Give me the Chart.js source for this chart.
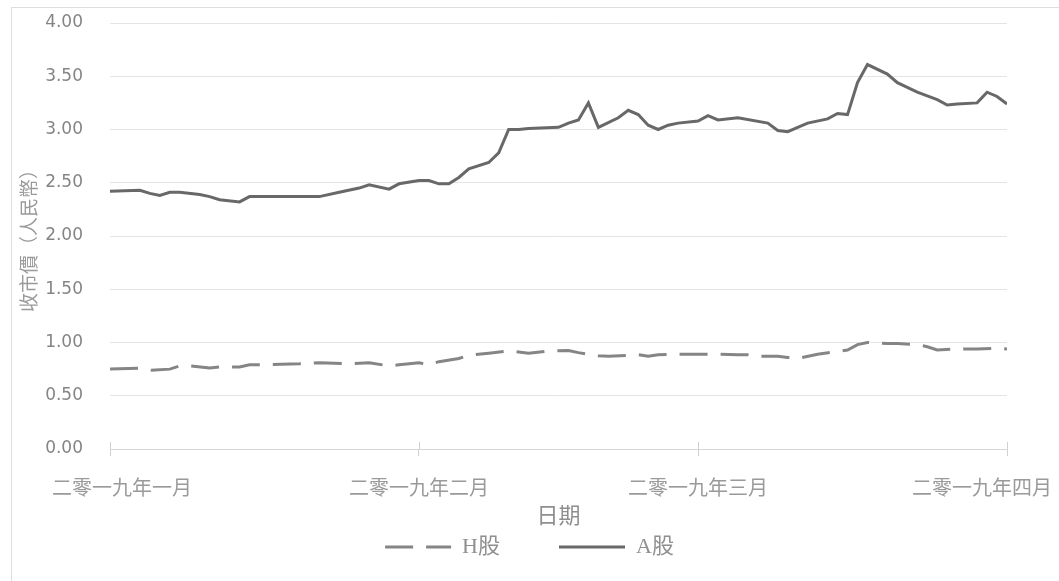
<!DOCTYPE html>
<html>
<head>
<meta charset="utf-8">
<script src="https://cdn.jsdelivr.net/npm/chart.js@4.4.1/dist/chart.umd.min.js"></script>
<style>
  body { margin: 0; background: #fff; }
  #frame { position: absolute; left: 11px; top: 7px; width: 1100px; height: 600px; border: 1px solid #dedede; }
  #myChart { position: absolute; left: 0; top: 0; }
</style>
</head>
<body>
<div id="frame"></div>
<canvas id="myChart" width="1059" height="581"></canvas>
<script>
// days counted from 1 Jan 2019
var tickDays = [0, 31, 59, 90];
var tickLabels = ["二零一九年一月", "二零一九年二月", "二零一九年三月", "二零一九年四月"];

var aDays = [0, 3, 4, 5, 6, 7, 9, 10, 11, 13, 14, 16, 21, 23, 25, 26, 28, 29, 31, 32, 33, 34, 35, 36, 38, 39,
    40, 41, 42, 45, 46, 47, 48, 49, 51, 52, 53, 54, 55, 56, 57, 59, 60, 61, 63, 66, 67, 68, 69, 70, 72, 73,
    74, 75, 76, 78, 79, 81, 83, 84, 85, 87, 88, 89, 90];
var aClose = [2.42, 2.43, 2.40, 2.38, 2.41, 2.41, 2.39, 2.37, 2.34, 2.32, 2.37, 2.37, 2.37, 2.41, 2.45, 2.48, 2.44,
    2.49, 2.52, 2.52, 2.49, 2.49, 2.55, 2.63, 2.69, 2.78, 3.00, 3.00, 3.01, 3.02, 3.06, 3.09, 3.25, 3.02, 3.11,
    3.18, 3.14, 3.04, 3.00, 3.04, 3.06, 3.08, 3.13, 3.09, 3.11, 3.06, 2.99, 2.98, 3.02, 3.06, 3.10, 3.15, 3.14,
    3.44, 3.61, 3.52, 3.44, 3.35, 3.28, 3.23, 3.24, 3.25, 3.35, 3.31, 3.24];

var hDays = [0, 3, 4, 6, 7, 8, 10, 11, 13, 14, 15, 19, 21, 24, 26, 28, 29, 31, 32, 33, 35, 36, 38, 40, 42, 44,
    46, 47, 49, 50, 53, 54, 55, 57, 58, 61, 63, 64, 65, 67, 68, 69, 71, 73, 74, 75, 76, 78, 79, 81, 82, 83,
    85, 87, 89, 90];
var hClose = [0.75, 0.76, 0.74, 0.75, 0.78, 0.78, 0.76, 0.77, 0.77, 0.79, 0.79, 0.80, 0.81, 0.80, 0.81, 0.78,
    0.79, 0.81, 0.79, 0.82, 0.85, 0.88, 0.90, 0.92, 0.90, 0.92, 0.925, 0.905, 0.875, 0.87, 0.885, 0.87, 0.885,
    0.89, 0.89, 0.89, 0.885, 0.885, 0.87, 0.87, 0.86, 0.85, 0.89, 0.915, 0.93, 0.98, 1.00, 0.99, 0.99, 0.98,
    0.96, 0.93, 0.94, 0.94, 0.945, 0.94];

var serifCJK = "'Liberation Serif', 'Noto Sans CJK TC'";
var textGrey = "#8f8f8f";

function toPoints(days, vals) {
    return days.map(function (d, i) { return {x: d, y: vals[i]}; });
}

// month labels under the axis, kept inside the frame like the original
var monthLabels = {
    id: "monthLabels",
    afterDraw: function (chart) {
        var ctx = chart.ctx;
        var x = chart.scales.x;
        ctx.save();
        ctx.font = "20px 'Noto Sans CJK TC'";
        ctx.fillStyle = "#9a9a9a";
        ctx.textAlign = "center";
        ctx.textBaseline = "middle";
        ctx.strokeStyle = "#d0d0d0";
        ctx.lineWidth = 1;
        tickDays.forEach(function (d, i) {
            var px = x.getPixelForValue(d);
            ctx.beginPath();
            ctx.moveTo(Math.round(px) + 0.5, x.top - 7);
            ctx.lineTo(Math.round(px) + 0.5, x.top);
            ctx.stroke();
            var half = ctx.measureText(tickLabels[i]).width / 2;
            var lx = Math.min(Math.max(px, 52 + half), chart.width - 7 - half);
            ctx.fillText(tickLabels[i], lx, x.top + 38);
        });
        ctx.restore();
    }
};

new Chart("myChart", {
    type: "line",
    data: {
        datasets: [{
                label: "H股",
                data: toPoints(hDays, hClose),
                borderColor: "#858585",
                backgroundColor: "#858585",
                borderDash: [28, 13],
                borderWidth: 3
            }, {
                label: "A股",
                data: toPoints(aDays, aClose),
                borderColor: "#686868",
                backgroundColor: "#686868",
                borderWidth: 3
            }]
    },
    options: {
        responsive: false,
        animation: false,
        layout: {padding: {left: 0, right: 0, top: 0, bottom: 13}},
        elements: {point: {radius: 0}, line: {tension: 0}},
        plugins: {
            legend: {
                position: "bottom",
                labels: {
                    usePointStyle: true,
                    pointStyle: "line",
                    pointStyleWidth: 66,
                    padding: 59,
                    color: textGrey,
                    font: {family: serifCJK, size: 22},
                    generateLabels: function (chart) {
                        var items = Chart.defaults.plugins.legend.labels.generateLabels(chart);
                        items.forEach(function (it) {
                            var ds = chart.data.datasets[it.datasetIndex];
                            it.lineDash = ds.borderDash || [];
                            it.lineWidth = ds.borderWidth;
                            it.strokeStyle = ds.borderColor;
                        });
                        return items;
                    }
                }
            },
            tooltip: {enabled: false}
        },
        scales: {
            x: {
                type: "linear",
                min: 0,
                max: 90,
                afterBuildTicks: function (s) {
                    s.ticks = tickDays.map(function (v) { return {value: v}; });
                },
                ticks: {display: false},
                grid: {drawOnChartArea: false, drawTicks: true, tickLength: 7, color: "#d0d0d0"},
                border: {display: true, color: "#d6d6d6"},
                title: {
                    display: true,
                    text: "日期",
                    color: textGrey,
                    font: {family: "'Noto Sans CJK TC'", size: 22},
                    padding: {top: 0, bottom: -51}
                },
                afterFit: function (s) {
                    s.height = 28;
                    s.paddingLeft = 0;
                    s.paddingRight = 52;
                }
            },
            y: {
                min: 0,
                max: 4,
                ticks: {
                    stepSize: 0.5,
                    padding: 27,
                    color: "#858585",
                    font: {family: "'DejaVu Sans'", size: 17},
                    callback: function (v) { return v.toFixed(2); }
                },
                grid: {color: "#e4e4e4", drawTicks: false},
                border: {display: false},
                title: {
                    display: true,
                    text: "收市價（人民幣）",
                    color: "#9a9a9a",
                    font: {family: "'Noto Sans CJK TC'", size: 19},
                    padding: {top: 17, bottom: 0}
                },
                afterFit: function (s) {
                    s.width = 110;
                    s.paddingTop = 23;
                    s.paddingBottom = 0;
                }
            }
        }
    },
    plugins: [monthLabels]
});
</script>
</body>
</html>
